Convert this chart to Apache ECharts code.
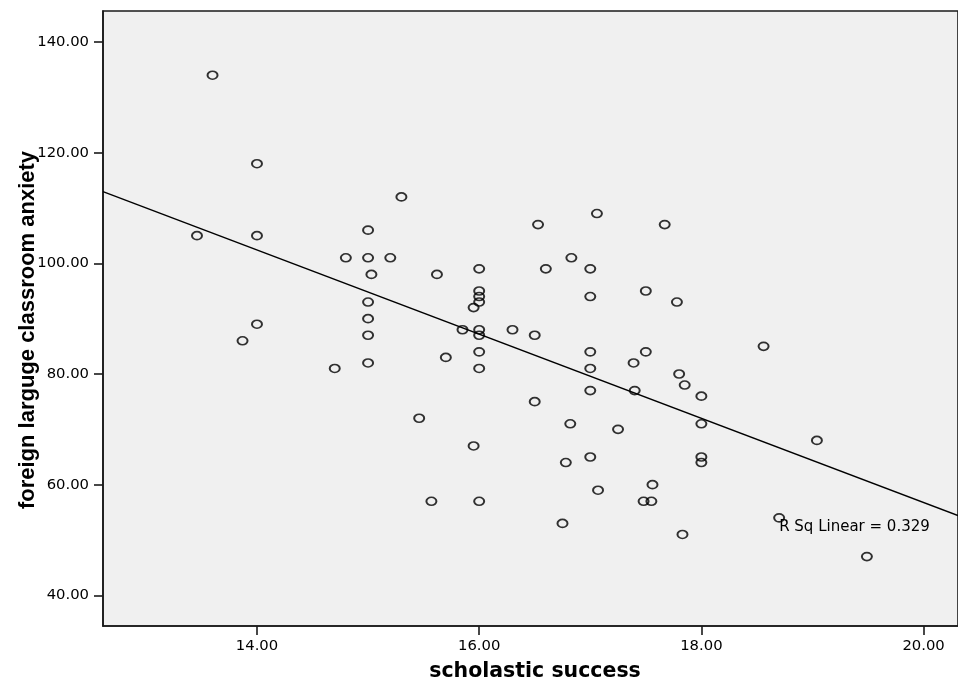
<!DOCTYPE html>
<html>
<head>
<meta charset="utf-8">
<script src="https://cdn.jsdelivr.net/npm/echarts@6/dist/echarts.min.js"></script>
<style>
html,body{margin:0;padding:0;background:#fff;}
#chart{width:958px;height:687px;}
</style>
</head>
<body>
<div id="chart"></div>
<script>
// scholastic success (x) and foreign language classroom anxiety (y)
const successValues = [
  13.46, 13.60, 13.87, 14.00, 14.00, 14.00,
  14.70, 14.80,
  15.00, 15.00, 15.00, 15.00, 15.00, 15.00, 15.03, 15.20, 15.30,
  15.46, 15.57, 15.62, 15.70, 15.85, 15.95, 15.95,
  16.00, 16.00, 16.00, 16.00, 16.00, 16.00, 16.00, 16.00, 16.00,
  16.30, 16.50, 16.50, 16.53, 16.60, 16.75, 16.78, 16.82, 16.83,
  17.00, 17.00, 17.00, 17.00, 17.00, 17.00, 17.06, 17.07, 17.25,
  17.39, 17.40, 17.48, 17.50, 17.50, 17.55, 17.56, 17.67, 17.78, 17.80, 17.83, 17.85,
  18.00, 18.00, 18.00, 18.00,
  18.56, 18.70, 19.04, 19.49
];
const anxietyValues = [
  105, 134, 86, 118, 105, 89,
  81, 101,
  106, 101, 93, 90, 87, 82, 98, 101, 112,
  72, 57, 98, 83, 88, 92, 67,
  99, 95, 94, 93, 88, 87, 84, 81, 57,
  88, 87, 75, 107, 99, 53, 64, 71, 101,
  99, 94, 84, 81, 77, 65, 109, 59, 70,
  82, 77, 57, 95, 84, 57, 60, 107, 93, 80, 51, 78,
  76, 71, 65, 64,
  85, 54, 68, 47
];
const xTickValues = [14, 16, 18, 20];
const yTickValues = [40, 60, 80, 100, 120, 140];
const xRange = [12.614, 20.31];
const yRange = [34.46, 145.6];
// fit line: anxiety = intercept + slope * success
const fitIntercept = 208.86;
const fitSlope = -7.604;
const rSqLabel = 'R Sq Linear = 0.329';
const rSqAnchor = [18.70, 52.3];
const xTitle = 'scholastic success';
const yTitle = 'foreign larguge classroom anxiety';

const points = successValues.map((x, i) => [x, anxietyValues[i]]);
const fitLine = xRange.map(x => [x, fitIntercept + fitSlope * x]);

const chart = echarts.init(document.getElementById('chart'), null, {renderer: 'canvas'});
const labelFont = {fontFamily: 'DejaVu Sans', fontSize: 14.8, color: '#000'};
chart.setOption({
  animation: false,
  backgroundColor: '#ffffff',
  grid: {
    left: 103, top: 11, right: -3, bottom: 61,
    show: true, backgroundColor: '#f0f0f0',
    borderColor: '#1a1a1a', borderWidth: 1.6
  },
  xAxis: {
    type: 'value', min: xRange[0], max: xRange[1],
    axisLine: {show: true, onZero: false, lineStyle: {color: '#1a1a1a', width: 1.6}},
    axisTick: {show: true, length: 9, customValues: xTickValues, lineStyle: {color: '#1a1a1a', width: 1.6}},
    axisLabel: Object.assign({customValues: xTickValues, margin: 13,
      formatter: v => Number(v).toFixed(2)}, labelFont),
    splitLine: {show: false}
  },
  yAxis: {
    type: 'value', min: yRange[0], max: yRange[1],
    axisLine: {show: true, onZero: false, lineStyle: {color: '#1a1a1a', width: 1.6}},
    axisTick: {show: true, length: 9, customValues: yTickValues, lineStyle: {color: '#1a1a1a', width: 1.6}},
    axisLabel: Object.assign({customValues: yTickValues, margin: 14,
      formatter: v => Number(v).toFixed(2)}, labelFont),
    splitLine: {show: false}
  },
  graphic: [
    {type: 'text', x: 535, y: 672,
     style: {text: xTitle, font: 'bold 20.5px "DejaVu Sans"', fill: '#000',
       textAlign: 'center', textVerticalAlign: 'middle'}},
    {type: 'text', x: 28, y: 330, rotation: Math.PI / 2,
     style: {text: yTitle, font: 'bold 22px "Liberation Sans"', fill: '#000',
       textAlign: 'center', textVerticalAlign: 'middle'}}
  ],
  series: [
    {
      type: 'line', data: fitLine, symbol: 'none', silent: true,
      lineStyle: {color: '#000', width: 1.4}, clip: true, z: 2
    },
    {
      type: 'scatter', data: points, symbol: 'circle', symbolSize: [10, 8],
      itemStyle: {color: 'rgba(0,0,0,0)', borderColor: '#000', borderWidth: 1.8},
      z: 3
    },
    {
      type: 'scatter', data: [rSqAnchor], symbolSize: 0, silent: true, z: 4,
      label: {show: true, position: 'right', distance: 0, formatter: rSqLabel,
        fontFamily: 'DejaVu Sans', fontSize: 15, color: '#000',
        textBorderWidth: 0, opacity: 1}
    }
  ]
});
</script>
</body>
</html>
